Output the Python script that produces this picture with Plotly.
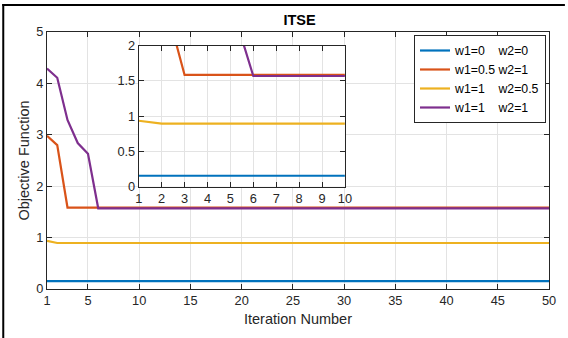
import plotly.graph_objects as go

iterations = list(range(1, 51))
names = ["w1=0\u00a0\u00a0\u00a0\u00a0w2=0",
         "w1=0.5\u00a0w2=1",
         "w1=1\u00a0\u00a0\u00a0\u00a0w2=0.5",
         "w1=1\u00a0\u00a0\u00a0\u00a0w2=1"]
colors = ["#0072BD", "#D95319", "#EDB120", "#7E2F8E"]

s_w00 = [0.155] * 50
s_w051 = [2.98, 2.80] + [1.585] * 48
s_w105 = [0.935] + [0.895] * 49
s_w11 = [4.29, 4.11, 3.29, 2.84, 2.63] + [1.57] * 45
series = [s_w00, s_w051, s_w105, s_w11]

x_ticks = [1, 5, 10, 15, 20, 25, 30, 35, 40, 45, 50]
inset_x_ticks = list(range(1, 11))

W, H = 568, 338
L, R, T, B = 47, 16, 32, 49
pw, ph = W - L - R, H - T - B

fig = go.Figure()
for s, n, c in zip(series, names, colors):
    fig.add_trace(go.Scatter(x=iterations, y=s, name=n, mode="lines",
                             line=dict(color=c, width=2.2), xaxis="x", yaxis="y"))
for s, n, c in zip(series, names, colors):
    fig.add_trace(go.Scatter(x=iterations[:10], y=s[:10], name=n, mode="lines",
                             line=dict(color=c, width=2.2), xaxis="x2", yaxis="y2",
                             showlegend=False))

axcol = "#262626"
gridcol = "#e3e3e3"
common = dict(showline=True, linecolor=axcol, linewidth=1, mirror="ticks",
              ticks="inside", ticklen=5, tickcolor=axcol, showgrid=True,
              gridcolor=gridcol, gridwidth=1, zeroline=False,
              tickfont=dict(size=12.8, color=axcol))

ix0, ix1 = (139.3 - L) / pw, (346.7 - L) / pw
iy0, iy1 = (289 - 186.7) / ph, (289 - 45.7) / ph

fig.update_layout(
    width=W, height=H,
    margin=dict(l=L, r=R, t=T, b=B),
    paper_bgcolor="white", plot_bgcolor="white",
    font=dict(family="Liberation Sans, Arial, sans-serif", color=axcol),
    title=dict(text="<b>ITSE</b>", x=(L + pw / 2) / W, xanchor="center",
               y=1 - 20 / H, yanchor="middle", font=dict(size=14.5, color="black")),
    xaxis=dict(domain=[0, 1], range=[1, 50], tickvals=x_ticks,
               title=dict(text="Iteration Number", font=dict(size=14.5, color=axcol), standoff=6),
               **common),
    yaxis=dict(domain=[0, 1], range=[0, 5], dtick=1,
               title=dict(text="Objective Function", font=dict(size=14.5, color=axcol), standoff=3),
               **common),
    xaxis2=dict(domain=[ix0, ix1], range=[1, 10], tickvals=inset_x_ticks,
                anchor="y2", **common),
    yaxis2=dict(domain=[iy0, iy1], range=[0, 2], dtick=0.5,
                anchor="x2", **common),
    legend=dict(x=(549 - L) / pw, xanchor="right", y=1 - (35 - T) / ph, yanchor="top",
                bgcolor="white", bordercolor=axcol, borderwidth=1,
                font=dict(size=12.3, color="black"), itemwidth=30,
                tracegroupgap=0),
    showlegend=True,
)

fig.add_shape(type="line", xref="paper", yref="paper",
              x0=(3 - L) / pw, x1=(3 - L) / pw, y0=1 + (T - 4) / ph, y1=-B / ph,
              line=dict(color="black", width=2))
fig.add_shape(type="line", xref="paper", yref="paper",
              x0=(2 - L) / pw, x1=(W - L) / pw, y0=1 + (T - 5) / ph, y1=1 + (T - 5) / ph,
              line=dict(color="black", width=2))

fig.write_html("out.html")
